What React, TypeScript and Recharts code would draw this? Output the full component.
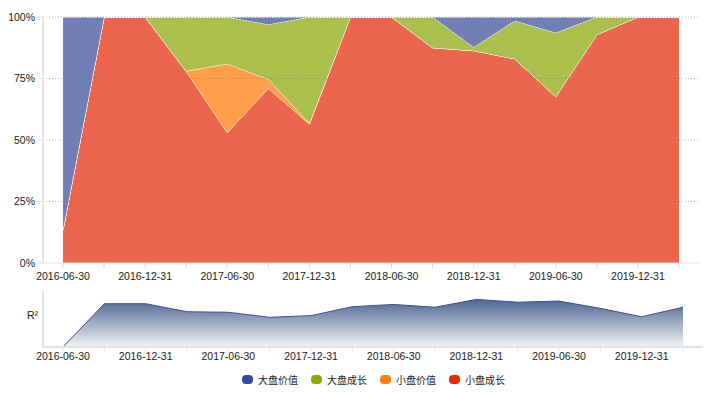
import React from 'react';
import { AreaChart, Area, XAxis, YAxis, ReferenceLine } from 'recharts';

const dates = [
  '2016-06-30', '2016-09-30', '2016-12-31', '2017-03-31',
  '2017-06-30', '2017-09-30', '2017-12-31', '2018-03-31',
  '2018-06-30', '2018-09-30', '2018-12-31', '2019-03-31',
  '2019-06-30', '2019-09-30', '2019-12-31', '2020-03-31',
];
// 小盘成长
const smallGrowth = [13.5, 100, 100, 78, 53, 71, 56.5, 100, 100, 87.5, 86.3, 83, 67.6, 92.8, 100, 100];
// 小盘价值
const smallValue = [0, 0, 0, 0, 28, 3.7, 0.3, 0, 0, 0, 0, 0, 0, 0, 0, 0];
// 大盘成长
const largeGrowth = [0, 0, 0, 22, 19, 22.3, 43.2, 0, 0, 12.5, 1.4, 15.5, 26, 7.2, 0, 0];
// 大盘价值
const largeValue = [86.5, 0, 0, 0, 0, 3, 0, 0, 0, 0, 12.3, 1.5, 6.4, 0, 0, 0];
// R²
const r2 = [0, 0.773, 0.773, 0.63, 0.62, 0.53, 0.56, 0.72, 0.76, 0.71, 0.85, 0.8, 0.82, 0.69, 0.54, 0.71];

const yTicks = [0, 25, 50, 75, 100];
const gridLines = [25, 50, 75, 100];

const seriesNames = ['大盘价值', '大盘成长', '小盘价值', '小盘成长'];
const legendColors = ['#334d9e', '#8fa90b', '#ff7f0e', '#e52a0c'];
const fillColors = ['#717fb4', '#abbf4d', '#ff9f4a', '#ec654d'];

const data = dates.map((d, i) => ({
  date: d,
  sg: smallGrowth[i],
  sv: smallValue[i],
  lg: largeGrowth[i],
  lv: largeValue[i],
  r2: r2[i],
}));

const FONT = '"Liberation Sans", Arial, sans-serif';

const EveryOtherTick = (props: any) => {
  const { x, y, payload, index } = props;
  if (index % 2 !== 0) return <g />;
  return (
    <text x={x} y={y} dy="0.75em" textAnchor="middle" fontFamily={FONT} fontSize={10.5} fill="#222">
      {payload.value}
    </text>
  );
};

export default function App() {
  return (
    <div style={{ position: 'absolute', left: 0, top: 0, width: 716, height: 397, background: '#fff' }}>
      <div style={{ position: 'absolute', left: 0, top: 0 }}>
        <AreaChart width={716} height={285} data={data} margin={{ top: 17, right: 17, left: 0, bottom: 0 }}>
          <XAxis
            dataKey="date"
            interval={0}
            padding={{ left: 20, right: 20 }}
            height={22}
            tick={<EveryOtherTick />}
            tickSize={5}
            tickMargin={4}
            tickLine={{ stroke: '#ccd6eb' }}
            axisLine={{ stroke: '#e3e3e3', strokeWidth: 1 }}
          />
          <YAxis
            yAxisId="l"
            domain={[0, 100]}
            ticks={yTicks}
            tickFormatter={(v: number) => `${v}%`}
            width={43}
            tickSize={5}
            tickMargin={3}
            tickLine={{ stroke: '#e3e3e3' }}
            axisLine={{ stroke: '#e6e6e6', strokeWidth: 2 }}
            tick={{ fontFamily: FONT, fontSize: 10.5, fill: '#222' }}
          />
          <YAxis
            yAxisId="r"
            orientation="right"
            domain={[0, 100]}
            width={0}
            tick={false}
            tickLine={false}
            axisLine={{ stroke: '#e6e6e6', strokeWidth: 1 }}
          />
          <Area yAxisId="l" type="linear" dataKey="sg" name={seriesNames[3]} stackId="1" stroke="#fff" strokeWidth={1} fill={fillColors[3]} fillOpacity={1} isAnimationActive={false} />
          <Area yAxisId="l" type="linear" dataKey="sv" name={seriesNames[2]} stackId="1" stroke="#fff" strokeWidth={1} fill={fillColors[2]} fillOpacity={1} isAnimationActive={false} />
          <Area yAxisId="l" type="linear" dataKey="lg" name={seriesNames[1]} stackId="1" stroke="#fff" strokeWidth={1} fill={fillColors[1]} fillOpacity={1} isAnimationActive={false} />
          <Area yAxisId="l" type="linear" dataKey="lv" name={seriesNames[0]} stackId="1" stroke="#fff" strokeWidth={1} fill={fillColors[0]} fillOpacity={1} isAnimationActive={false} />
          {gridLines.map((g) => (
            <ReferenceLine key={g} yAxisId="l" y={g} stroke="#777" strokeOpacity={0.55} strokeDasharray="1 2" />
          ))}
        </AreaChart>
      </div>
      <div style={{ position: 'absolute', left: 0, top: 285 }}>
        <AreaChart width={716} height={80} data={data} margin={{ top: 6, right: 13, left: 0, bottom: 0 }}>
          <defs>
            <linearGradient id="r2grad" x1="0" y1="0" x2="0" y2="1">
              <stop offset="0%" stopColor="#4d6593" stopOpacity={1} />
              <stop offset="100%" stopColor="#f4f4f4" stopOpacity={1} />
            </linearGradient>
          </defs>
          <XAxis
            dataKey="date"
            interval={0}
            padding={{ left: 20, right: 20 }}
            height={18}
            tick={<EveryOtherTick />}
            tickSize={4}
            tickMargin={1}
            tickLine={{ stroke: '#dde3ee' }}
            axisLine={{ stroke: '#e3e3e3', strokeWidth: 2 }}
          />
          <XAxis
            xAxisId="top"
            orientation="top"
            dataKey="date"
            padding={{ left: 20, right: 20 }}
            height={0}
            tick={false}
            tickLine={false}
            axisLine={{ stroke: '#e3e3e3', strokeWidth: 2 }}
          />
          <YAxis
            domain={[0, 1]}
            width={43}
            tick={false}
            tickLine={false}
            axisLine={{ stroke: '#e3e3e3', strokeWidth: 2 }}
            label={{ value: 'R²', position: 'insideRight', offset: 5, dy: -4, fontFamily: FONT, fontSize: 10.5, fill: '#222' }}
          />
          <YAxis
            yAxisId="r"
            orientation="right"
            domain={[0, 1]}
            width={0}
            tick={false}
            tickLine={false}
            axisLine={{ stroke: '#e3e3e3', strokeWidth: 2 }}
          />
          <Area type="linear" dataKey="r2" name="R²" stroke="#3a4f9a" strokeWidth={1} fill="url(#r2grad)" fillOpacity={1} isAnimationActive={false} />
        </AreaChart>
      </div>
      <div
        style={{
          position: 'absolute',
          left: 242,
          top: 372,
          display: 'flex',
          alignItems: 'center',
          fontFamily: '"Noto Sans CJK SC", sans-serif',
          fontSize: 10,
          color: '#222',
          whiteSpace: 'nowrap',
        }}
      >
        {seriesNames.map((n, i) => (
          <div key={n} style={{ display: 'flex', alignItems: 'center', marginRight: 13 }}>
            <span style={{ display: 'inline-block', width: 11, height: 9, borderRadius: 4, background: legendColors[i], marginRight: 5 }} />
            <span>{n}</span>
          </div>
        ))}
      </div>
    </div>
  );
}
